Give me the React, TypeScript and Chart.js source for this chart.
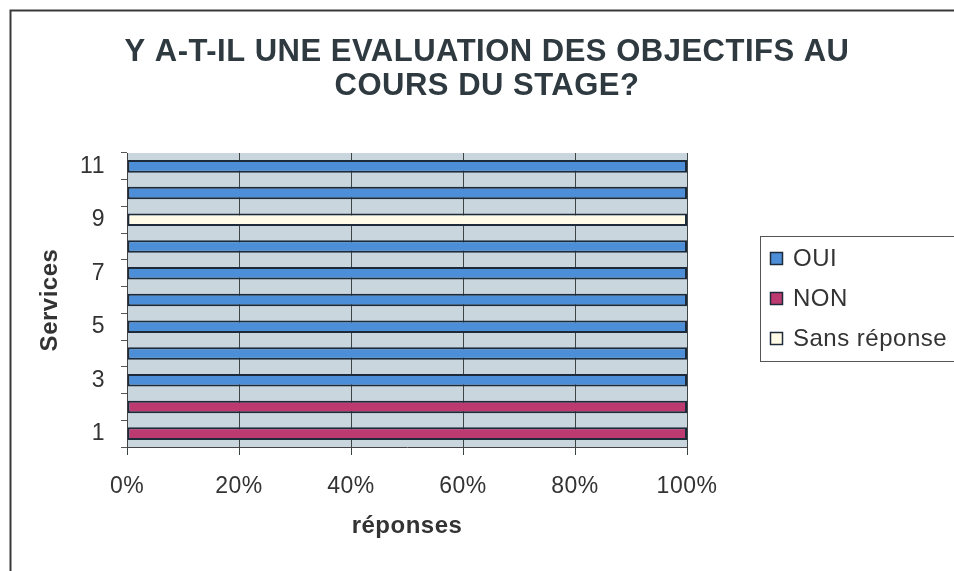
import React, { useEffect, useRef } from 'react';
import { Chart, registerables } from 'chart.js';

Chart.register(...registerables);

// ---- data ----
const services = ['1', '2', '3', '4', '5', '6', '7', '8', '9', '10', '11'];
const oui = [null, null, 100, 100, 100, 100, 100, 100, null, 100, 100];
const non = [100, 100, null, null, null, null, null, null, null, null, null];
const sansReponse = [null, null, null, null, null, null, null, null, 100, null, null];
const seriesNames = ['OUI', 'NON', 'Sans réponse'];
const xTickValues = [0, 20, 40, 60, 80, 100];
const titleLines = ['Y A-T-IL UNE EVALUATION DES OBJECTIFS AU', 'COURS DU STAGE?'];
const yAxisTitle = 'Services';
const xAxisTitle = 'réponses';

const COLORS = ['#4c8fd8', '#bd3a70', '#fffbe6'];
const BAR_BORDER = '#1d2a3a';
const PLOT_BG = '#c9d6de';
const TEXT = '#333333';
const FONT = "'Liberation Sans', Arial, sans-serif";
const SPACING = '0.5px';

export default function App() {
  const ref = useRef<HTMLCanvasElement | null>(null);

  useEffect(() => {
    const canvas = ref.current;
    if (!canvas) return;

    const decorPlugin = {
      id: 'decor',
      beforeDraw(chart: any) {
        const { ctx, chartArea } = chart;
        ctx.save();
        ctx.fillStyle = '#ffffff';
        ctx.fillRect(0, 0, chart.width, chart.height);
        ctx.fillStyle = PLOT_BG;
        ctx.fillRect(chartArea.left, chartArea.top, chartArea.right - chartArea.left, chartArea.bottom - chartArea.top);
        ctx.restore();
        ctx.letterSpacing = SPACING;
      },
      afterDraw(chart: any) {
        const { ctx } = chart;
        ctx.save();
        ctx.letterSpacing = SPACING;
        // outer frame
        ctx.strokeStyle = '#3a3a3a';
        ctx.lineWidth = 2;
        ctx.beginPath();
        ctx.moveTo(10.5, chart.height + 5);
        ctx.lineTo(10.5, 10.5);
        ctx.lineTo(chart.width + 5, 10.5);
        ctx.stroke();

        // title
        ctx.fillStyle = '#2e3a40';
        ctx.font = `bold 31px ${FONT}`;
        ctx.textAlign = 'center';
        ctx.textBaseline = 'middle';
        const titleY = [52, 86];
        titleLines.forEach((line, i) => ctx.fillText(line, 487, titleY[i]));

        // legend
        ctx.strokeStyle = '#555555';
        ctx.lineWidth = 1;
        ctx.strokeRect(760.5, 236.5, 210, 125);
        ctx.font = `24px ${FONT}`;
        ctx.textAlign = 'left';
        const rows = [259, 299, 339];
        chart.data.datasets.forEach((ds: any, i: number) => {
          const y = rows[i];
          ctx.fillStyle = ds.backgroundColor;
          ctx.fillRect(770, y - 7, 13, 13);
          ctx.strokeStyle = BAR_BORDER;
          ctx.lineWidth = 1.5;
          ctx.strokeRect(770.5, y - 6.5, 12, 12);
          ctx.fillStyle = TEXT;
          ctx.fillText(ds.label, 793, y);
        });
        ctx.restore();
        ctx.letterSpacing = '0px';
      },
    };

    const mk = (label: string, data: (number | null)[], color: string) => ({
      label,
      data,
      backgroundColor: color,
      borderColor: BAR_BORDER,
      borderWidth: 2,
      borderSkipped: false,
      categoryPercentage: 1,
      barPercentage: 0.47,
    });

    const chart = new Chart(canvas, {
      type: 'bar',
      data: {
        labels: services,
        datasets: [
          mk(seriesNames[0], oui, COLORS[0]),
          mk(seriesNames[1], non, COLORS[1]),
          mk(seriesNames[2], sansReponse, COLORS[2]),
        ],
      },
      plugins: [decorPlugin],
      options: {
        indexAxis: 'y',
        animation: false,
        responsive: false,
        devicePixelRatio: 1,
        layout: { padding: { top: 153, right: 267, bottom: 0, left: 0 } },
        plugins: {
          legend: { display: false },
          title: { display: false },
          tooltip: { enabled: false },
        },
        scales: {
          x: {
            type: 'linear',
            stacked: true,
            min: 0,
            max: 100,
            afterFit: (s: any) => { s.height = 124; },
            afterBuildTicks: (s: any) => { s.ticks = xTickValues.map((v) => ({ value: v })); },
            ticks: {
              callback: (v: any) => `${v}%`,
              color: TEXT,
              font: { family: FONT, size: 23 },
              padding: 18,
              maxRotation: 0,
            },
            grid: { color: '#3d4547', lineWidth: 1, tickLength: 8, drawTicks: true },
            border: { display: true, color: '#444444', width: 1 },
            title: {
              display: true,
              text: xAxisTitle,
              color: TEXT,
              font: { family: FONT, size: 24, weight: 'bold' },
              padding: { top: 0, bottom: 30 },
            },
          },
          y: {
            type: 'category',
            stacked: true,
            reverse: true,
            afterFit: (s: any) => { s.width = 127; },
            ticks: {
              autoSkip: false,
              callback: (_v: any, i: number) => (i % 2 === 0 ? services[i] : ''),
              color: TEXT,
              font: { family: FONT, size: 23 },
              padding: 16,
            },
            grid: { drawOnChartArea: false, drawTicks: true, tickLength: 6, color: '#555555', offset: true },
            border: { display: true, color: '#444444', width: 1 },
            title: {
              display: true,
              text: yAxisTitle,
              color: TEXT,
              font: { family: FONT, size: 24, weight: 'bold' },
              padding: { top: 36, bottom: 0 },
            },
          },
        },
      },
    } as any);

    return () => chart.destroy();
  }, []);

  return (
    <div style={{ position: 'fixed', left: 0, top: 0, width: 954, height: 571, background: '#fff' }}>
      <canvas ref={ref} width={954} height={571} style={{ width: 954, height: 571, display: 'block' }} />
    </div>
  );
}
